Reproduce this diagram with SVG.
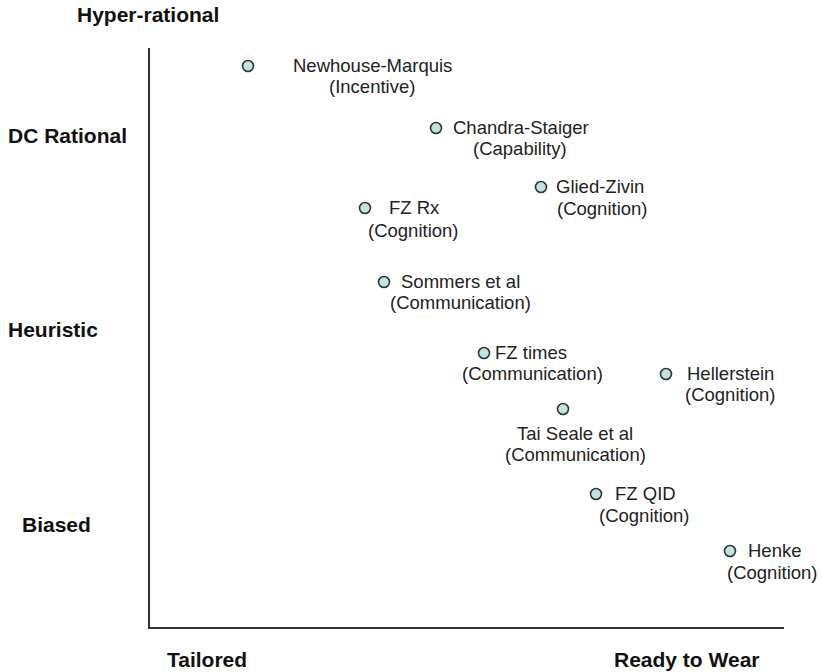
<svg xmlns="http://www.w3.org/2000/svg" width="822" height="672" viewBox="0 0 822 672">
<style>
.ax{font-family:"Liberation Sans",Arial,sans-serif;font-weight:bold;font-size:21px;fill:#111}
.lb{font-family:"Liberation Sans",Arial,sans-serif;font-size:18.5px;fill:#222}
.dot{fill:#bfe4e4;stroke:#333;stroke-width:1.6}
.axis{stroke:#333;stroke-width:2;fill:none}
</style>
<rect width="822" height="672" fill="#fff"/>
<g id="axes">
<path class="axis" d="M149,48 V628 H784"/>
</g>
<g id="axis-labels">
<text class="ax" x="77" y="22">Hyper-rational</text>
<text class="ax" x="8" y="143">DC Rational</text>
<text class="ax" x="8" y="337">Heuristic</text>
<text class="ax" x="22" y="532">Biased</text>
<text class="ax" x="167" y="667">Tailored</text>
<text class="ax" x="614" y="667">Ready to Wear</text>
</g>
<g id="newhouse"><circle class="dot" cx="248" cy="66" r="5.5"/><text class="lb" x="293" y="72">Newhouse-Marquis</text><text class="lb" x="329" y="93">(Incentive)</text></g>
<g id="chandra"><circle class="dot" cx="436" cy="128" r="5.5"/><text class="lb" x="453" y="134">Chandra-Staiger</text><text class="lb" x="473" y="155">(Capability)</text></g>
<g id="glied"><circle class="dot" cx="541" cy="187" r="5.5"/><text class="lb" x="556" y="193">Glied-Zivin</text><text class="lb" x="557" y="215">(Cognition)</text></g>
<g id="fzrx"><circle class="dot" cx="365" cy="208" r="5.5"/><text class="lb" x="389" y="214">FZ Rx</text><text class="lb" x="368" y="237">(Cognition)</text></g>
<g id="sommers"><circle class="dot" cx="384" cy="282" r="5.5"/><text class="lb" x="401" y="288">Sommers et al</text><text class="lb" x="390" y="309">(Communication)</text></g>
<g id="fztimes"><circle class="dot" cx="484" cy="353" r="5.5"/><text class="lb" x="495" y="359">FZ times</text><text class="lb" x="462" y="380">(Communication)</text></g>
<g id="hellerstein"><circle class="dot" cx="666" cy="374" r="5.5"/><text class="lb" x="687" y="380">Hellerstein</text><text class="lb" x="685" y="401">(Cognition)</text></g>
<g id="taiseale"><circle class="dot" cx="563" cy="409" r="5.5"/><text class="lb" x="517" y="440">Tai Seale et al</text><text class="lb" x="505" y="461">(Communication)</text></g>
<g id="fzqid"><circle class="dot" cx="596" cy="494" r="5.5"/><text class="lb" x="615" y="500">FZ QID</text><text class="lb" x="599" y="522">(Cognition)</text></g>
<g id="henke"><circle class="dot" cx="730" cy="551" r="5.5"/><text class="lb" x="748" y="557">Henke</text><text class="lb" x="727" y="579">(Cognition)</text></g>
<g id="connectors"></g>
</svg>
